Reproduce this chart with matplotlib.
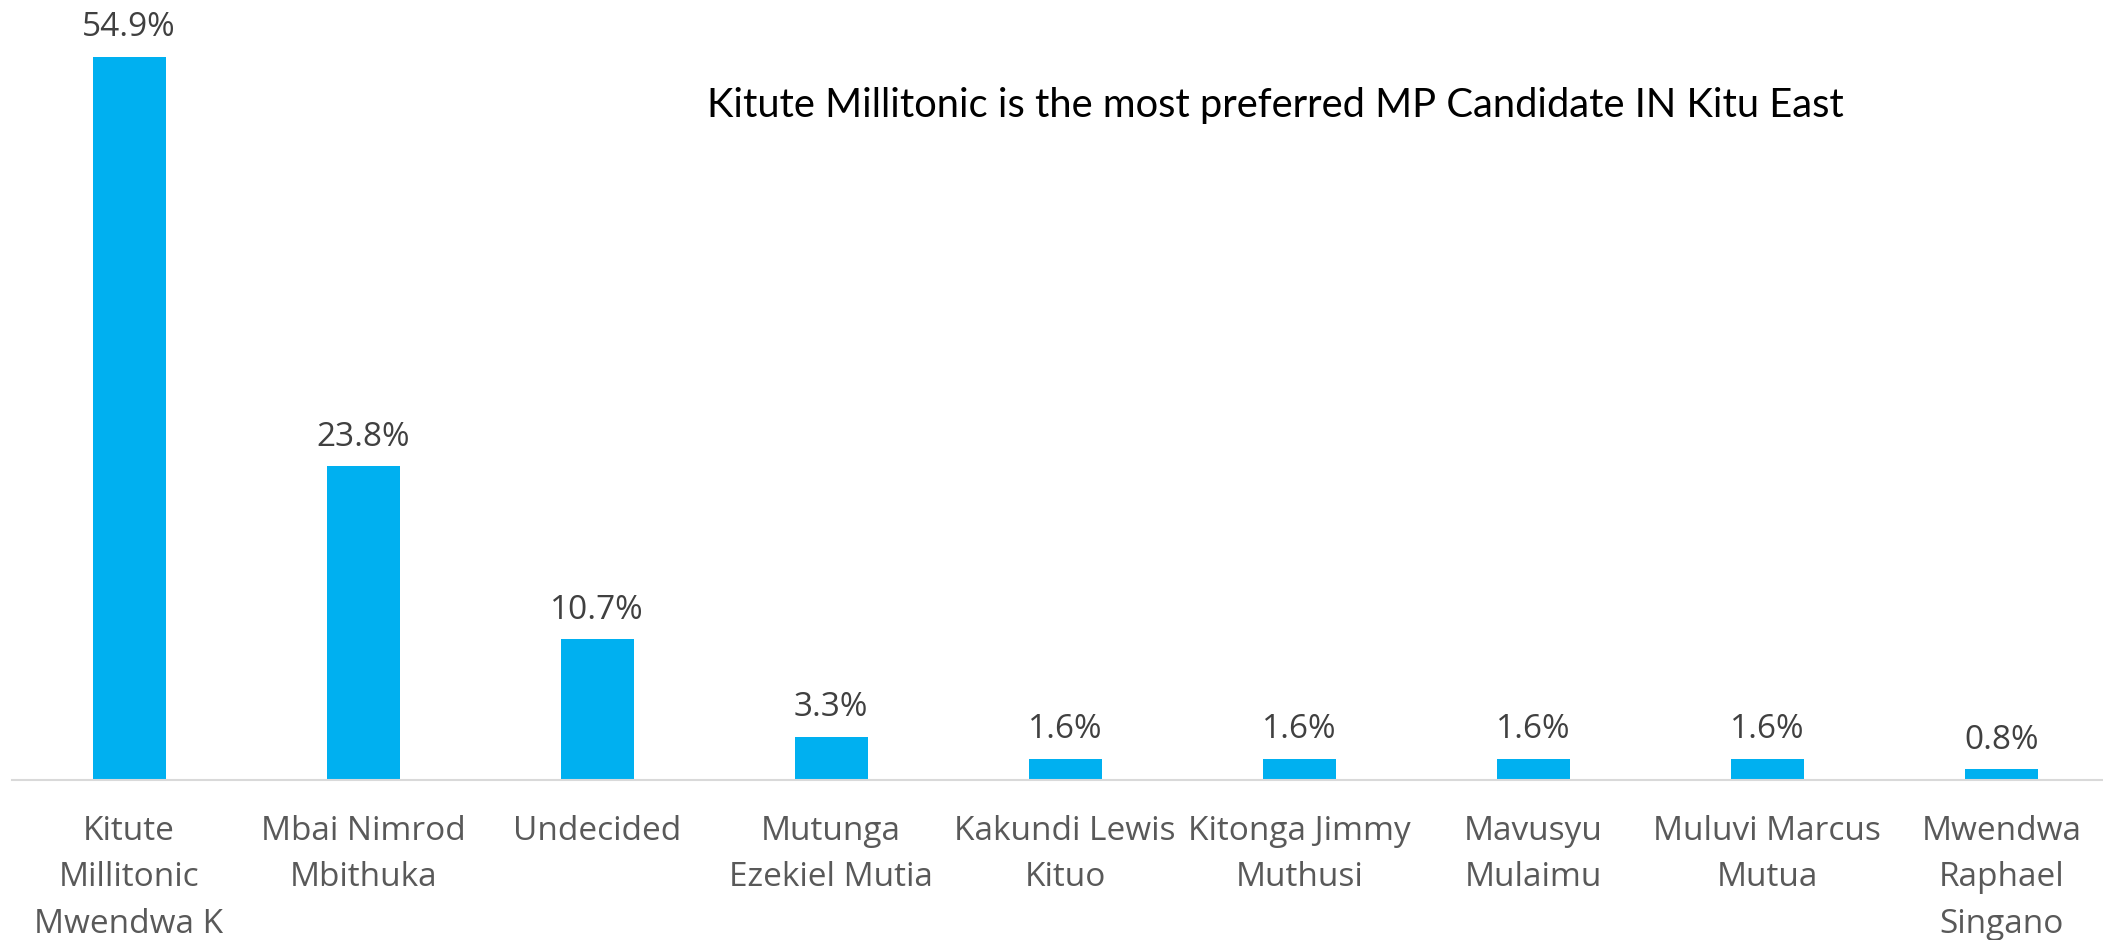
import matplotlib.pyplot as plt
import numpy as np

# data
candidates = [
    'Kitute\nMillitonic\nMwendwa K',
    'Mbai Nimrod\nMbithuka',
    'Undecided',
    'Mutunga\nEzekiel Mutia',
    'Kakundi Lewis\nKituo',
    'Kitonga Jimmy\nMuthusi',
    'Mavusyu\nMulaimu',
    'Muluvi Marcus\nMutua',
    'Mwendwa\nRaphael\nSingano',
]
shares = [54.9, 23.8, 10.7, 3.3, 1.6, 1.6, 1.6, 1.6, 0.8]
title = 'Kitute Millitonic is the most preferred MP Candidate IN Kitu East'

fig = plt.figure(figsize=(21.03, 9.40), dpi=100)
ax = fig.add_axes([12 / 2103, 1 - 780 / 940, 1 - 12 / 2103, 780 / 940])

x = np.arange(len(candidates))
bars = ax.bar(x, shares, width=0.312, color='#00B0F0', zorder=2)

for xi, v in zip(x, shares):
    ax.annotate(f'{v:.1f}%', (xi, v), xytext=(0, 9), textcoords='offset points',
                ha='center', va='bottom', fontsize=24, color='#404040',
                family='Open Sans')

ax.set_xlim(-0.5, 8.434)
ax.set_ylim(0, 59.2)
ax.set_xticks(x)
ax.set_xticklabels(candidates, fontsize=24, color='#595959', family='Open Sans',
                   linespacing=1.55)
ax.tick_params(axis='x', length=0, pad=25)
ax.set_yticks([])
for s in ['top', 'right', 'left']:
    ax.spines[s].set_visible(False)
ax.spines['bottom'].set_color('#D9D9D9')
ax.spines['bottom'].set_linewidth(1.5)

fig.text(707 / 2103, 1 - 117 / 940, title, ha='left', va='baseline',
         fontsize=28.7, color='black', family='Lato')

fig.savefig('out.png', dpi=100)
